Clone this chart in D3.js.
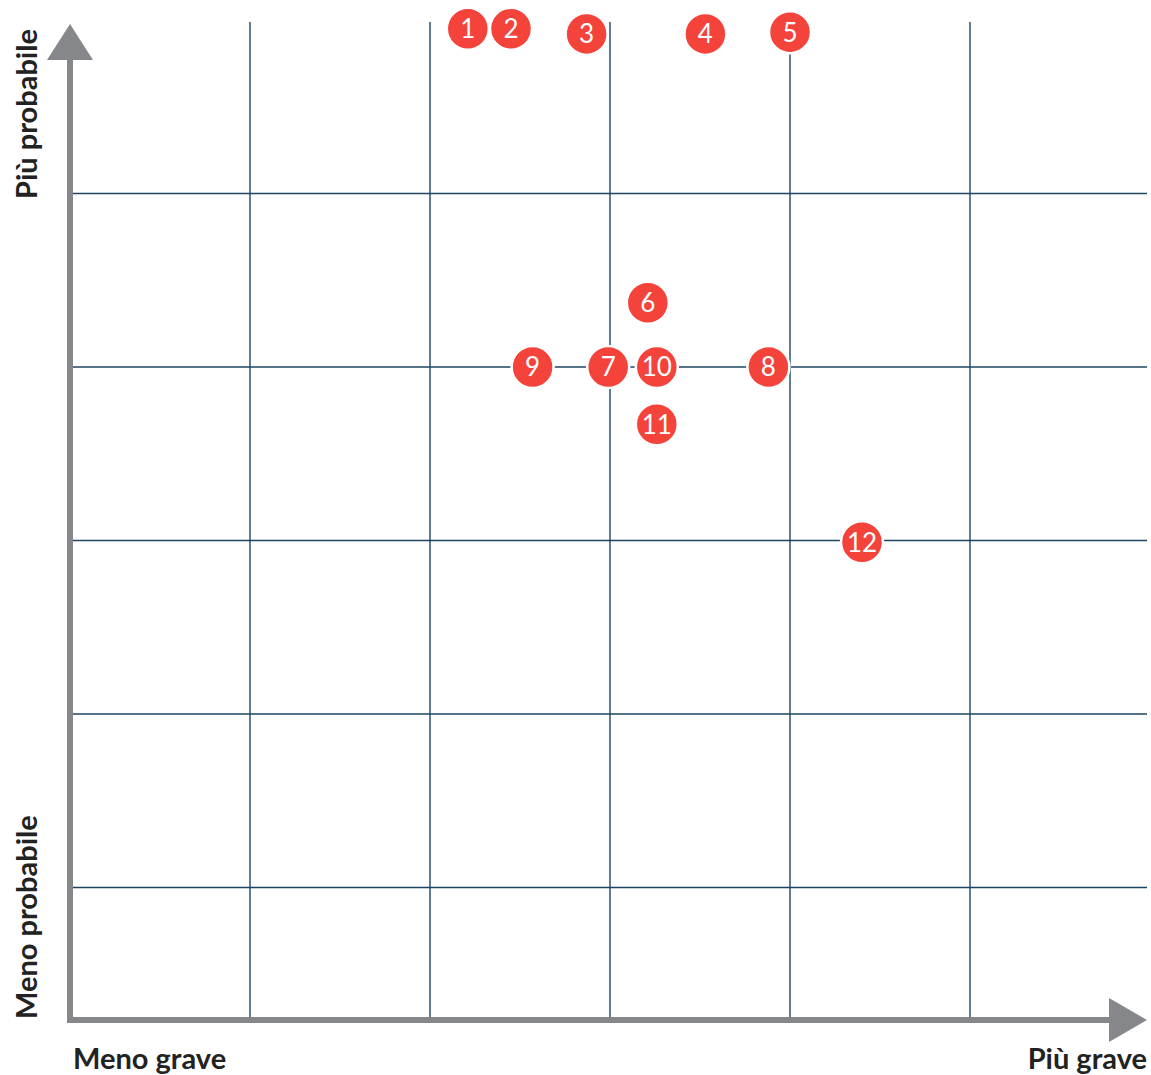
<!DOCTYPE html>
<html>
<head>
<meta charset="utf-8">
<script src="https://cdn.jsdelivr.net/npm/d3@7"></script>
<style>
body { margin: 0; background: #ffffff; }
text { font-family: Lato, "Open Sans", sans-serif; }
</style>
</head>
<body>
<div></div>
<script>
let svgWidth = 1151;
let svgHeight = 1075;

// dati: gravità (x) e probabilità (y)
let labels = ["1","2","3","4","5","6","7","8","9","10","11","12"];
let gravita = [2.21, 2.45, 2.87, 3.53, 4.0, 3.21, 2.99, 3.88, 2.57, 3.26, 3.26, 4.4];
let probabilita = [5.95, 5.95, 5.92, 5.92, 5.93, 4.37, 4.0, 4.0, 4.0, 4.0, 3.67, 2.99];
let gridTicks = [1, 2, 3, 4, 5];

let x = d3.scaleLinear().domain([0, 6]).range([70, 1150]);
let y = d3.scaleLinear().domain([0, 6]).range([1061, 20]);

let axisColor = "#86878a";
let gridColor = "#1c4662";
let dotColor = "#f4433a";

let svg = d3.select("body div")
    .append("svg")
    .attr("width", svgWidth)
    .attr("height", svgHeight);

let axisY0 = 1020;

// griglia
svg.selectAll(".vgrid").data(gridTicks).enter()
    .append("line")
    .attr("x1", d => x(d)).attr("x2", d => x(d))
    .attr("y1", 22).attr("y2", axisY0)
    .attr("stroke", gridColor).attr("stroke-width", 1.4);

svg.selectAll(".hgrid").data(gridTicks).enter()
    .append("line")
    .attr("x1", 73).attr("x2", 1147)
    .attr("y1", d => y(d)).attr("y2", d => y(d))
    .attr("stroke", gridColor).attr("stroke-width", 1.4);

// assi con frecce
svg.append("line")
    .attr("x1", 70).attr("x2", 70)
    .attr("y1", axisY0 + 3).attr("y2", 58)
    .attr("stroke", axisColor).attr("stroke-width", 6);
svg.append("path")
    .attr("d", "M70,24 L93,60 L47,60 Z")
    .attr("fill", axisColor);

svg.append("line")
    .attr("x1", 67).attr("x2", 1110)
    .attr("y1", axisY0).attr("y2", axisY0)
    .attr("stroke", axisColor).attr("stroke-width", 6);
svg.append("path")
    .attr("d", "M1147," + axisY0 + " L1109," + (axisY0 - 22) + " L1109," + (axisY0 + 22) + " Z")
    .attr("fill", axisColor);

// etichette assi
let labelSize = 29;
svg.append("text")
    .attr("transform", "translate(37,199) rotate(-90)")
    .attr("font-size", labelSize).attr("font-weight", "bold").attr("fill", "#222")
    .text("Più probabile");
svg.append("text")
    .attr("transform", "translate(37,1019) rotate(-90)")
    .attr("font-size", labelSize).attr("font-weight", "bold").attr("fill", "#222")
    .text("Meno probabile");
svg.append("text")
    .attr("x", 73).attr("y", 1069)
    .attr("font-size", labelSize).attr("font-weight", "bold").attr("fill", "#222")
    .text("Meno grave");
svg.append("text")
    .attr("x", 1147).attr("y", 1069)
    .attr("text-anchor", "end")
    .attr("font-size", labelSize).attr("font-weight", "bold").attr("fill", "#222")
    .text("Più grave");

// punti
let dots = svg.selectAll(".dot").data(labels).enter()
    .append("g")
    .attr("transform", (d, i) => "translate(" + x(gravita[i]) + "," + y(probabilita[i]) + ")");
dots.append("circle")
    .attr("r", 21)
    .attr("fill", dotColor)
    .attr("stroke", "#ffffff").attr("stroke-width", 2.5);
dots.append("text")
    .attr("text-anchor", "middle")
    .attr("dy", "0.36em")
    .attr("font-size", 26).attr("fill", "#ffffff")
    .text(d => d);
</script>
</body>
</html>
